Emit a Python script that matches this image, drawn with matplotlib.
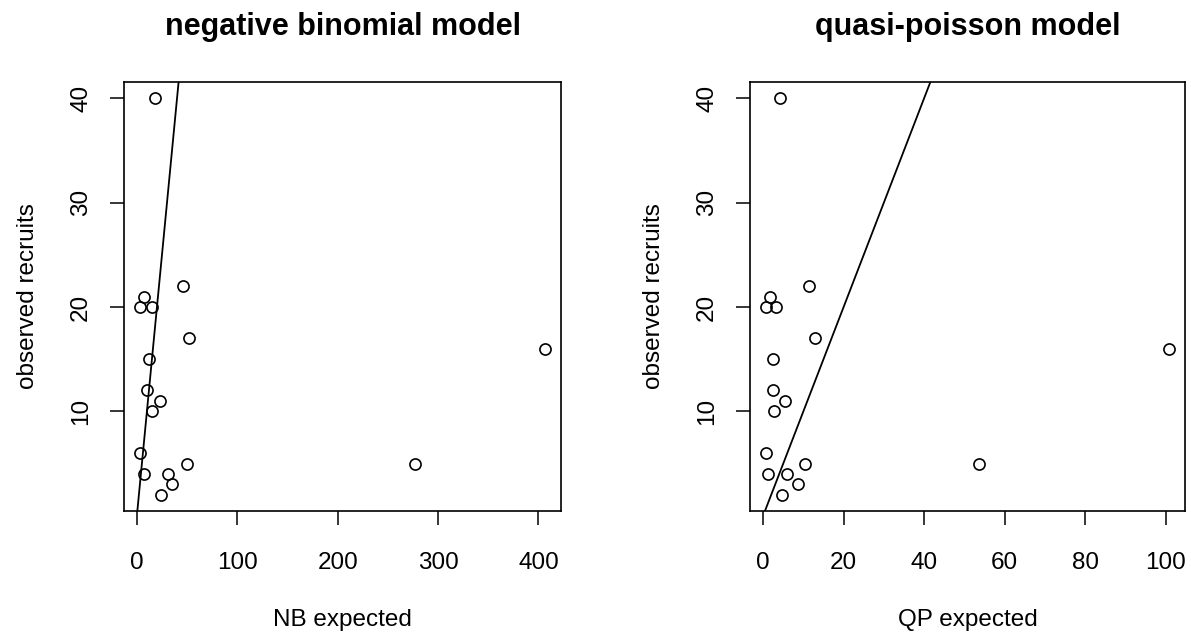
import numpy as np
import matplotlib
matplotlib.use("Agg")
import matplotlib.pyplot as plt

plt.rcParams['font.family'] = ['Liberation Sans', 'DejaVu Sans']

# observed recruits and the expected values of the two models
observed = [40, 22, 21, 20, 20, 17, 16, 15, 12, 11, 10, 6, 5, 5, 4, 4, 3, 2]
nb_expected = [17.9, 46.1, 6.6, 3.3, 14.6, 52.4, 406.6, 11.6, 10.0, 22.6,
               14.6, 3.3, 49.5, 276.8, 6.6, 30.5, 35.2, 23.9]
qp_expected = [4.3, 11.4, 1.6, 0.74, 3.2, 13.0, 100.8, 2.4, 2.4, 5.5,
               2.8, 0.83, 10.3, 53.6, 1.24, 5.9, 8.6, 4.7]

titles = ["negative binomial model", "quasi-poisson model"]
xlabels = ["NB expected", "QP expected"]
xticks = [[0, 100, 200, 300, 400], [0, 20, 40, 60, 80, 100]]
yticks = [10, 20, 30, 40]


def rlim(v):
    # R style axis range: data range widened by 4% on each side
    lo, hi = min(v), max(v)
    d = 0.04 * (hi - lo)
    return lo - d, hi + d


fig = plt.figure(figsize=(11.91, 6.36), dpi=100)
W, H = 1191, 636
# axes boxes in pixels (left, right, top, bottom)
boxes = [(124, 561.3, 82.3, 510.7), (750, 1185, 82.3, 510.7)]

for i, (l, r, t, b) in enumerate(boxes):
    ax = fig.add_axes([l / W, 1 - b / H, (r - l) / W, (b - t) / H])
    xs = qp_expected if i else nb_expected
    ax.plot(xs, observed, 'o', mfc='none', mec='black', ms=8, mew=1.2)
    ax.set_xlim(rlim(xs))
    ax.set_ylim(rlim(observed))
    # 1:1 line
    ax.axline((0, 0), slope=1, color='black', lw=1.3)
    ax.set_xlim(rlim(xs))
    ax.set_ylim(rlim(observed))
    ax.set_xticks(xticks[i])
    ax.set_yticks(yticks)
    ax.tick_params(axis='both', direction='out', length=10, width=1.1,
                   labelsize=17.5, color='black')
    ax.tick_params(axis='x', pad=20)
    ax.tick_params(axis='y', pad=13, labelrotation=90)
    for lab in ax.get_yticklabels():
        lab.set_va('center')
    for s in ax.spines.values():
        s.set_linewidth(1.2)
    ax.set_title(titles[i], fontsize=22, fontweight='bold', pad=34)
    ax.set_xlabel(xlabels[i], fontsize=17.5, labelpad=25)
    ax.set_ylabel("observed recruits", fontsize=17.5, labelpad=22)

fig.savefig("out.png", dpi=100)
